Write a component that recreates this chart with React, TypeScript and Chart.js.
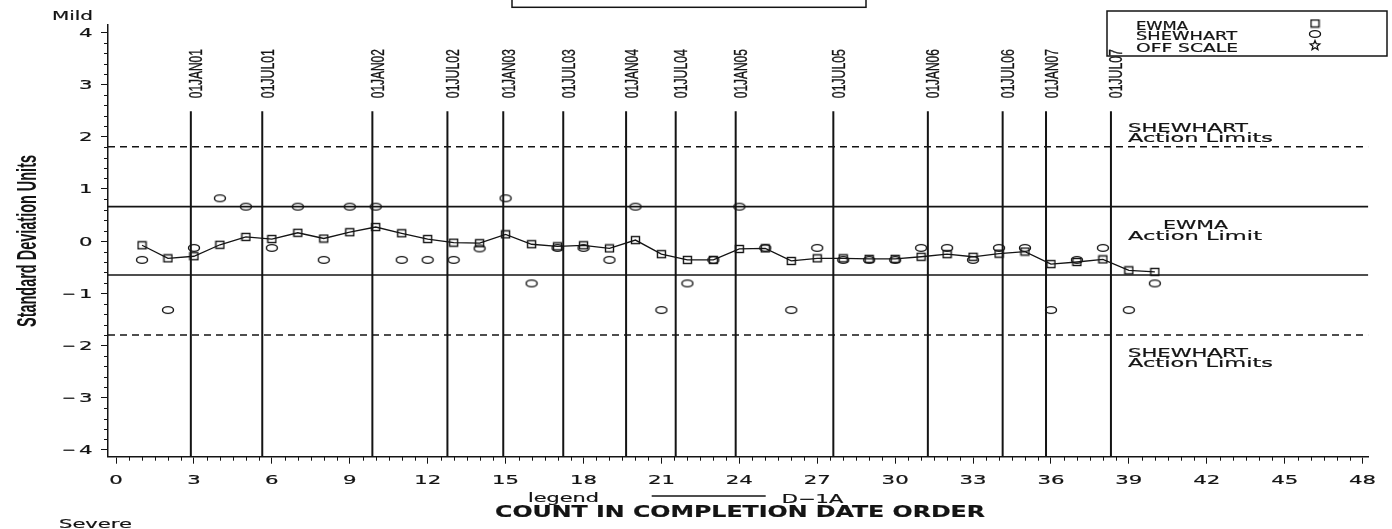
import React, { useEffect, useRef } from 'react';
import { Chart, registerables } from 'chart.js';

Chart.register(...registerables);

// ---------------- data ----------------
const COUNT = [1, 2, 3, 4, 5, 6, 7, 8, 9, 10, 11, 12, 13, 14, 15, 16, 17, 18, 19, 20, 21, 22, 23, 24, 25, 26, 27, 28, 29, 30, 31, 32, 33, 34, 35, 36, 37, 38, 39, 40];
const EWMA = [-0.08, -0.33, -0.29, -0.07, 0.08, 0.04, 0.16, 0.05, 0.17, 0.27, 0.15, 0.04, -0.03, -0.04, 0.13, -0.06, -0.1, -0.08, -0.14, 0.02, -0.25, -0.36, -0.36, -0.15, -0.14, -0.38, -0.33, -0.33, -0.34, -0.34, -0.3, -0.25, -0.3, -0.24, -0.2, -0.44, -0.4, -0.35, -0.56, -0.59];
const SHEWHART = [-0.36, -1.32, -0.13, 0.82, 0.66, -0.13, 0.66, -0.36, 0.66, 0.66, -0.36, -0.36, -0.36, -0.14, 0.82, -0.81, -0.13, -0.13, -0.36, 0.66, -1.32, -0.81, -0.36, 0.66, -0.13, -1.32, -0.13, -0.36, -0.36, -0.36, -0.13, -0.13, -0.36, -0.13, -0.13, -1.32, -0.36, -0.13, -1.32, -0.81];
const DATE_LABELS = ['01JAN01', '01JUL01', '01JAN02', '01JUL02', '01JAN03', '01JUL03', '01JAN04', '01JUL04', '01JAN05', '01JUL05', '01JAN06', '01JUL06', '01JAN07', '01JUL07'];
const DATE_POS = [2.88, 5.63, 9.87, 12.76, 14.91, 17.22, 19.64, 21.55, 23.86, 27.62, 31.26, 34.14, 35.81, 38.31];
const SHEWHART_LIMITS = [1.81, -1.8];
const EWMA_LIMITS = [0.66, -0.65];
const X_TICKS = [0, 3, 6, 9, 12, 15, 18, 21, 24, 27, 30, 33, 36, 39, 42, 45, 48];
const Y_TICKS = [4, 3, 2, 1, 0, -1, -2, -3, -4];
const X_MIN = -0.31;
const X_MAX = 48.22;
const Y_MIN = -4.13;
const Y_MAX = 4.14;
const VLINE_TOP = 2.49;

const INK = '#141414';

function makeMarker(kind: 'square' | 'ellipse'): HTMLCanvasElement {
  const c = document.createElement('canvas');
  const g = c.getContext('2d')!;
  if (kind === 'square') {
    c.width = 11; c.height = 10;
    g.strokeStyle = INK; g.lineWidth = 1.4;
    g.strokeRect(1.5, 1.5, 8, 7);
  } else {
    c.width = 14; c.height = 10;
    g.strokeStyle = INK; g.lineWidth = 1.4;
    g.beginPath(); g.ellipse(7, 5, 5.5, 3.4, 0, 0, Math.PI * 2); g.stroke();
  }
  return c;
}

type TOpt = { font: string; w?: number; sx?: number; align?: CanvasTextAlign; rot?: number; stroke?: number };
function txt(ctx: CanvasRenderingContext2D, s: string, x: number, y: number, o: TOpt) {
  ctx.save();
  ctx.font = o.font;
  ctx.fillStyle = INK;
  ctx.strokeStyle = INK;
  ctx.textBaseline = 'alphabetic';
  ctx.textAlign = o.align || 'left';
  ctx.translate(x, y);
  if (o.rot) ctx.rotate(o.rot);
  const m = ctx.measureText(s).width;
  const sx = o.w ? o.w / m : (o.sx || 1);
  ctx.scale(sx, 1);
  ctx.fillText(s, 0, 0);
  if (o.stroke) {
    ctx.lineWidth = o.stroke;
    ctx.strokeText(s, 0, 0);
  }
  ctx.restore();
}

const TICK_FONT = "12.5px 'DejaVu Sans'";
const SAS_FONT = "13px 'DejaVu Sans'";
const SW = 0.2;

export default function App() {
  const ref = useRef<HTMLCanvasElement | null>(null);
  useEffect(() => {
    const canvas = ref.current!;
    const sq = makeMarker('square');
    const el = makeMarker('ellipse');

    const decor = {
      id: 'decor',
      afterDraw(chart: any) {
        const ctx: CanvasRenderingContext2D = chart.ctx;
        const xs = chart.scales.x;
        const ys = chart.scales.y;
        const area = chart.chartArea;
        ctx.save();
        ctx.strokeStyle = INK;
        ctx.lineWidth = 1;
        // minor ticks
        ctx.beginPath();
        for (let k = 0; k <= 96; k++) {
          const v = k * 0.5;
          if (v % 3 === 0) continue;
          const px = Math.round(xs.getPixelForValue(v)) + 0.5;
          ctx.moveTo(px, area.bottom); ctx.lineTo(px, area.bottom + 4);
        }
        for (let k = -20; k <= 20; k++) {
          if (k % 5 === 0) continue;
          const py = Math.round(ys.getPixelForValue(k * 0.2)) + 0.5;
          ctx.moveTo(area.left - 4, py); ctx.lineTo(area.left, py);
        }
        ctx.stroke();
        ctx.restore();

        // tick labels
        X_TICKS.forEach(v => {
          txt(ctx, String(v), xs.getPixelForValue(v), 484, { font: TICK_FONT, sx: 1.7, align: 'center', stroke: SW });
        });
        Y_TICKS.forEach(v => {
          const py = ys.getPixelForValue(v) + 4.5;
          txt(ctx, String(Math.abs(v)), 92.5, py, { font: TICK_FONT, sx: 1.7, align: 'right', stroke: SW });
          if (v < 0) txt(ctx, '\u2212', 76, py, { font: TICK_FONT, w: 14, align: 'right', stroke: SW });
        });

        // date labels
        const labelBottom = ys.getPixelForValue(VLINE_TOP) - 13;
        DATE_LABELS.forEach((s, i) => {
          const px = xs.getPixelForValue(DATE_POS[i]);
          txt(ctx, s, px + 11.5, labelBottom, { font: "18px 'Liberation Sans'", w: 49, rot: -Math.PI / 2, stroke: 0.35 });
        });

        // axis titles & words
        txt(ctx, 'Standard Deviation Units', 36, 241, { font: "bold 28px 'Liberation Sans'", w: 172, rot: -Math.PI / 2, align: 'center' });
        txt(ctx, 'Mild', 52, 20, { font: SAS_FONT, w: 41, stroke: SW });
        txt(ctx, 'Severe', 59, 528, { font: SAS_FONT, w: 73, stroke: SW });
        txt(ctx, 'COUNT IN COMPLETION DATE ORDER', 495, 516.7, { font: "bold 16px 'DejaVu Sans'", w: 490, stroke: 0.2 });
        txt(ctx, 'legend', 528, 501.7, { font: "12px 'DejaVu Sans'", w: 71, stroke: SW });
        txt(ctx, 'D\u22121A', 781.7, 502.7, { font: "12px 'DejaVu Sans'", w: 61.6, stroke: SW });
        ctx.save();
        ctx.strokeStyle = INK; ctx.lineWidth = 1.3;
        ctx.beginPath(); ctx.moveTo(651.7, 496); ctx.lineTo(765.7, 496); ctx.stroke();
        ctx.restore();

        // limit annotations
        txt(ctx, 'SHEWHART', 1128, 132, { font: SAS_FONT, w: 120, stroke: SW });
        txt(ctx, 'Action Limits', 1128, 141.5, { font: SAS_FONT, w: 145, stroke: SW });
        txt(ctx, 'EWMA', 1163, 229.3, { font: SAS_FONT, w: 65, stroke: SW });
        txt(ctx, 'Action Limit', 1128, 240, { font: SAS_FONT, w: 134, stroke: SW });
        txt(ctx, 'SHEWHART', 1128, 357, { font: SAS_FONT, w: 120, stroke: SW });
        txt(ctx, 'Action Limits', 1128, 367, { font: SAS_FONT, w: 145, stroke: SW });

        // boxes
        ctx.save();
        ctx.strokeStyle = INK; ctx.lineWidth = 1.5;
        ctx.strokeRect(512, -2, 354, 9.3);
        ctx.strokeRect(1107, 11, 280, 45);
        ctx.restore();

        // legend contents
        txt(ctx, 'EWMA', 1136, 30, { font: "11.5px 'DejaVu Sans'", w: 52, stroke: SW });
        txt(ctx, 'SHEWHART', 1136, 40.3, { font: "11.5px 'DejaVu Sans'", w: 101, stroke: SW });
        txt(ctx, 'OFF SCALE', 1136, 51.5, { font: "11.5px 'DejaVu Sans'", w: 102, stroke: SW });
        ctx.drawImage(sq, 1315 - 5.5, 23.5 - 5);
        ctx.drawImage(el, 1315 - 7, 34 - 5);
        ctx.save();
        ctx.strokeStyle = INK; ctx.lineWidth = 1.3;
        ctx.beginPath();
        for (let k = 0; k < 10; k++) {
          const r = k % 2 === 0 ? 5 : 2.2;
          const a = -Math.PI / 2 + k * Math.PI / 5;
          const px = 1315 + r * Math.cos(a);
          const py = 45.5 + r * Math.sin(a);
          if (k === 0) ctx.moveTo(px, py); else ctx.lineTo(px, py);
        }
        ctx.closePath(); ctx.stroke();
        ctx.restore();
      },
    };

    const lineDs = (pts: { x: number; y: number }[], extra: any) => ({
      data: pts, showLine: true, borderColor: INK, pointRadius: 0, fill: false, tension: 0, ...extra,
    });

    const chart = new Chart(canvas, {
      type: 'scatter',
      data: {
        datasets: [
          {
            label: 'EWMA',
            data: COUNT.map((c, i) => ({ x: c, y: EWMA[i] })),
            showLine: true, borderColor: INK, borderWidth: 1.3, tension: 0,
            pointStyle: sq as any, pointRadius: 5, order: 0,
          },
          {
            label: 'SHEWHART',
            data: COUNT.map((c, i) => ({ x: c, y: SHEWHART[i] })),
            showLine: false, pointStyle: el as any, pointRadius: 5, order: 1,
          },
          ...SHEWHART_LIMITS.map(v => lineDs([{ x: X_MIN, y: v }, { x: X_MAX, y: v }], { borderWidth: 1.5, borderDash: [7, 5], order: 2 })),
          ...EWMA_LIMITS.map(v => lineDs([{ x: X_MIN, y: v }, { x: X_MAX, y: v }], { borderWidth: 1.6, order: 2 })),
          ...DATE_POS.map(d => lineDs([{ x: d, y: Y_MIN }, { x: d, y: VLINE_TOP }], { borderWidth: 2, order: 3 })),
        ] as any,
      },
      options: {
        animation: false,
        responsive: false,
        events: [],
        layout: { padding: { top: 25, right: 1392 - 1368.3, left: 0, bottom: 0 } },
        plugins: { legend: { display: false }, tooltip: { enabled: false } },
        scales: {
          x: {
            type: 'linear', min: X_MIN, max: X_MAX,
            afterBuildTicks: (s: any) => { s.ticks = X_TICKS.map(v => ({ value: v })); },
            afterFit: (s: any) => { s.height = 529 - 456.7; },
            ticks: { display: false },
            grid: { drawOnChartArea: false, drawTicks: true, tickLength: 7, color: INK, lineWidth: 1 },
            border: { display: true, color: INK, width: 1.5 },
          },
          y: {
            type: 'linear', min: Y_MIN, max: Y_MAX,
            afterBuildTicks: (s: any) => { s.ticks = Y_TICKS.map(v => ({ value: v })); },
            afterFit: (s: any) => { s.width = 108; },
            ticks: { display: false },
            grid: { drawOnChartArea: false, drawTicks: true, tickLength: 7, color: INK, lineWidth: 1 },
            border: { display: true, color: INK, width: 1.5 },
          },
        },
      } as any,
      plugins: [decor],
    });
    return () => chart.destroy();
  }, []);

  return (
    <div style={{ position: 'absolute', left: 0, top: 0, width: 1392, height: 529, background: '#fff' }}>
      <canvas ref={ref} width={1392} height={529} style={{ display: 'block' }} />
    </div>
  );
}
